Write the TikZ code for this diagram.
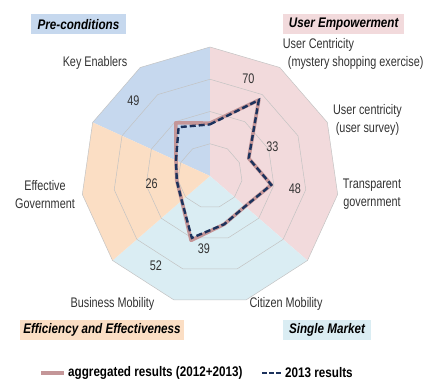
\documentclass[tikz,border=0pt]{standalone}
\usepackage{fontspec}
\setmainfont[FakeStretch=0.78]{Liberation Sans}
\newfontfamily\headfont[FakeStretch=0.84]{Liberation Sans}
\definecolor{precond}{RGB}{198,216,238}
\definecolor{userpink}{RGB}{242,218,220}
\definecolor{effpeach}{RGB}{251,222,196}
\definecolor{marketblue}{RGB}{218,237,243}
\definecolor{aggrrose}{RGB}{196,150,152}
\definecolor{navy}{RGB}{28,50,92}
\definecolor{labelgray}{RGB}{50,50,50}
\definecolor{gridgray}{RGB}{195,195,195}
\tikzset{
  axislabel/.style={text=labelgray,font=\fontsize{13.9}{18.3}\selectfont,align=center,inner sep=0pt},
  score/.style={axislabel},
  groupbox/.style={font=\headfont\bfseries\itshape\fontsize{13.9}{16}\selectfont,minimum height=20.3pt,inner sep=0pt},
  legendtext/.style={font=\headfont\bfseries\fontsize{13.9}{16}\selectfont,anchor=west,inner sep=0pt},
  ringline/.style={draw=gridgray,line width=0.5pt},
  aggr/.style={draw=aggrrose,line width=3.6pt,line join=round},
  recent/.style={draw=navy,line width=2.4pt,line cap=butt,dash pattern=on 6pt off 3pt,line join=miter}
}
\begin{document}
\begin{tikzpicture}[x=1pt,y=-1pt,line cap=round,line join=round]
  \useasboundingbox (0,0) rectangle (424,380);
  \def\R{129}
  \begin{scope}[shift={(210,176)}]
    \coordinate (c) at (0,0);
    \foreach \k in {0,...,10}
      \coordinate (o\k) at ({\k*360/11-90}:\R);
    \fill[precond] (c) -- (o9) -- (o10) -- (o0) -- cycle;
    \fill[userpink] (c) -- (o0) -- (o1) -- (o2) -- (o3) -- (o4) -- cycle;
    \fill[marketblue] (c) -- (o4) -- (o5) -- (o6) -- (o7) -- cycle;
    \fill[effpeach] (c) -- (o7) -- (o8) -- (o9) -- cycle;
    \foreach \ring in {0.25,0.5,0.75,1}
      \draw[ringline] (-90:\ring*\R)
        foreach \k in {1,...,10} {-- ({\k*360/11-90}:{\ring*\R})} -- cycle;
    \foreach \v [count=\k from 0] in {0.41,0.70,0.33,0.48,0.36,0.39,0.52,0.29,0.26,0.29,0.49}
      \coordinate (a\k) at ({\k*360/11-90}:{\v*\R});
    \foreach \v [count=\k from 0] in {0.40,0.70,0.33,0.48,0.36,0.39,0.50,0.29,0.26,0.29,0.45}
      \coordinate (b\k) at ({\k*360/11-90}:{\v*\R});
    \draw[aggr] (a0) foreach \k in {1,...,10} {-- (a\k)} -- cycle;
    \draw[recent] (b0) foreach \k in {1,...,10} {-- (b\k)} -- cycle;
  \end{scope}
  \node[axislabel] (keyen) at (95,63.3) {Key Enablers};
  \node[axislabel,align=left,anchor=west] (ucmys) at (282.7,54.2)
    {User Centricity\\\hspace*{5pt}(mystery shopping exercise)};
  \node[axislabel] (ucsurv) at (367.5,119.7) {User centricity\\(user survey)};
  \node[axislabel] (transp) at (372,194.3) {Transparent\\government};
  \node[axislabel] (effgov) at (45,194.3) {Effective\\Government};
  \node[axislabel] (busmob) at (112.5,304.3) {Business Mobility};
  \node[axislabel] (citmob) at (286,304.3) {Citizen Mobility};
  \node[score] (s70) at (248.3,78.3) {70};
  \node[score] (s49) at (133.3,100.8) {49};
  \node[score] (s33) at (272.3,146.8) {33};
  \node[score] (s48) at (295,188.3) {48};
  \node[score] (s26) at (151.7,183.3) {26};
  \node[score] (s39) at (204,249.2) {39};
  \node[score] (s52) at (155.8,266) {52};
  \node[groupbox,fill=precond,minimum width=95pt] (pre) at (78.5,24.2) {Pre-conditions};
  \node[groupbox,fill=userpink,minimum width=121.3pt] (emp) at (343.7,24.2) {User Empowerment};
  \node[groupbox,fill=effpeach,minimum width=164pt] (eff) at (102,330.3) {Efficiency and Effectiveness};
  \node[groupbox,fill=marketblue,minimum width=88pt] (sm) at (327,330.3) {Single Market};
  \coordinate (lega) at (41,372.7);
  \coordinate (legb) at (64.3,372.7);
  \coordinate (legc) at (262,372.7);
  \coordinate (legd) at (281.3,372.7);
  \draw[aggr,line cap=butt] (lega) -- (legb);
  \draw[recent,dash pattern=on 5pt off 2.2pt] (legc) -- (legd);
  \node[legendtext] (legaggr) at (68,372.7) {aggregated results (2012+2013)};
  \node[legendtext] (legrec) at (285,372.7) {2013 results};
\end{tikzpicture}
\end{document}
